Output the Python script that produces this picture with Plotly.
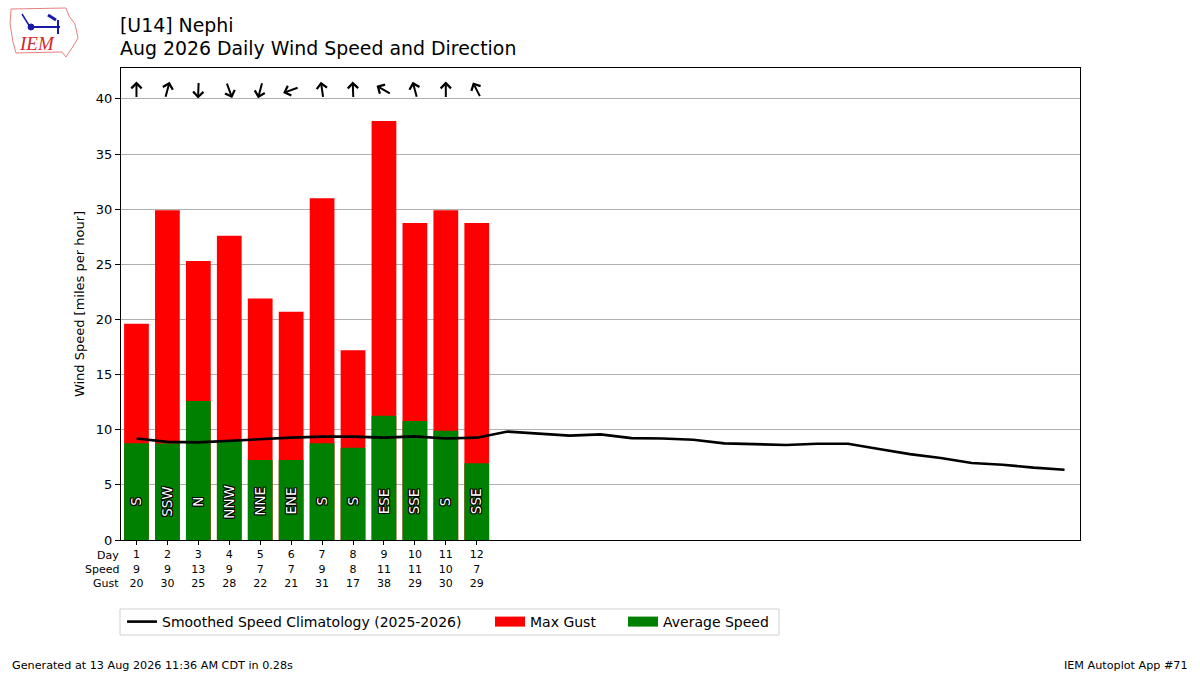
import math
import plotly.graph_objects as go

# ---------------- data ----------------
days = list(range(1, 13))
avg_speed = [8.77, 8.74, 12.6, 9.0, 7.26, 7.26, 8.77, 8.37, 11.27, 10.8, 9.9, 6.96]
max_gust = [19.6, 29.9, 25.3, 27.6, 21.9, 20.7, 31.0, 17.2, 38.0, 28.75, 29.9, 28.75]
direction_deg = [180, 195, 2, 340, 15, 70, 172, 178, 120, 165, 180, 153]
direction_txt = ["S", "SSW", "N", "NNW", "NNE", "ENE", "S", "S", "ESE", "SSE", "S", "SSE"]
speed_lbl = [9, 9, 13, 9, 7, 7, 9, 8, 11, 11, 10, 7]
gust_lbl = [20, 30, 25, 28, 22, 21, 31, 17, 38, 29, 30, 29]
clim_days = list(range(1, 32))
clim_speed = [9.2, 8.9, 8.85, 9.0, 9.1, 9.28, 9.37, 9.37, 9.28, 9.4, 9.2, 9.28,
              9.83, 9.67, 9.46, 9.58, 9.24, 9.21, 9.09, 8.76, 8.70, 8.62, 8.73,
              8.73, 8.25, 7.79, 7.43, 6.98, 6.83, 6.56, 6.37]
y_ticks = [0, 5, 10, 15, 20, 25, 30, 35, 40]

FONT = "DejaVu Sans"
W, H = 1200, 675
ML, MR, MT, MB = 121, 120, 68, 135
XR = [0.5, 31.5]
YR = [0, 42.8]
PW, PH = W - ML - MR, H - MT - MB
px_per_x = PW / (XR[1] - XR[0])
px_per_y = PH / (YR[1] - YR[0])


def px2paper(px, py):
    return (px - ML) / PW, (H - MB - py) / PH


LEG_Y = px2paper(0, 622)[1]
legend_common = dict(orientation="h", yanchor="middle", xanchor="left", y=LEG_Y,
                     bgcolor="rgba(0,0,0,0)", borderwidth=0,
                     font=dict(family=FONT, size=14, color="black"))

fig = go.Figure()
fig.add_trace(go.Bar(x=days, y=max_gust, name="Max Gust", marker_color="#ff0000",
                     marker_line_width=0, width=0.8, showlegend=False))
fig.add_trace(go.Bar(x=days, y=avg_speed, name="Average Speed", marker_color="#008000",
                     marker_line_width=0, width=0.8, showlegend=False))
fig.add_trace(go.Scatter(x=clim_days, y=clim_speed, mode="lines",
                         name="Smoothed Speed Climatology (2025-2026)",
                         line=dict(color="black", width=2.6), legend="legend"))
# legend proxies for bars (rectangular swatches)
fig.add_trace(go.Scatter(x=[None], y=[None], mode="lines", name="Max Gust",
                         line=dict(color="#ff0000", width=10), legend="legend2"))
fig.add_trace(go.Scatter(x=[None], y=[None], mode="lines", name="Average Speed",
                         line=dict(color="#008000", width=10), legend="legend3"))

annotations = []
# direction arrows
arrow_y = 40.8
L = 17.0
for d, deg in zip(days, direction_deg):
    th = math.radians(deg + 180)
    dxp = math.sin(th) * L / 2
    dyp = math.cos(th) * L / 2
    annotations.append(dict(
        x=d + dxp / px_per_x, y=arrow_y + dyp / px_per_y,
        ax=d - dxp / px_per_x, ay=arrow_y - dyp / px_per_y,
        xref="x", yref="y", axref="x", ayref="y", text="",
        showarrow=True, arrowhead=4, arrowsize=1.0, arrowwidth=2,
        arrowcolor="black", standoff=0, startstandoff=0))
# direction labels in bars
for d, t in zip(days, direction_txt):
    annotations.append(dict(
        x=d, y=3.5, xref="x", yref="y", text=t, showarrow=False, textangle=-90,
        font=dict(family=FONT, size=13.5, color="white",
                  shadow="-1px -1px 0 #000, 1px -1px 0 #000, -1px 1px 0 #000, 1px 1px 0 #000, 0 1px 0 #000, 0 -1px 0 #000, 1px 0 0 #000, -1px 0 0 #000")))
# table row labels
for i, lab in enumerate(["Day", "Speed", "Gust"]):
    annotations.append(dict(
        x=0, y=0, xref="paper", yref="paper", xanchor="right", yanchor="middle",
        xshift=0, yshift=-15 - 14 * i, text=lab, showarrow=False,
        font=dict(family=FONT, size=11, color="black")))


def fig_text(px, py, text, size, anchor="left", family=FONT, color="black"):
    x, y = px2paper(px, py)
    annotations.append(dict(x=x, y=y, xref="paper", yref="paper", xanchor=anchor,
                            yanchor="middle", showarrow=False, text=text,
                            font=dict(family=family, size=size, color=color)))


fig_text(118, 25, "[U14] Nephi", 18.9)
fig_text(118, 48, "Aug 2026 Daily Wind Speed and Direction", 18.9)
fig_text(10, 665, "Generated at 13 Aug 2026 11:36 AM CDT in 0.28s", 11.2)
fig_text(1190, 665, "IEM Autoplot App #71", 11.2, anchor="right")
fig_text(37, 44, "<i>IEM</i>", 19, anchor="center", family="Liberation Serif", color="#d62728")

# logo outline / details
logo_pts = [(11, 9), (66, 8), (69, 16), (75, 24), (78, 38), (72, 48), (66, 57),
            (62, 52), (16, 53), (13, 42), (10, 24)]
path = "M " + " L ".join(f"{px2paper(a, b)[0]:.4f},{px2paper(a, b)[1]:.4f}" for a, b in logo_pts) + " Z"
shapes = [dict(type="path", path=path, xref="paper", yref="paper",
               line=dict(color="#e88080", width=1), fillcolor="rgba(0,0,0,0)")]


def fig_line(p0, p1, width):
    x1, y1 = px2paper(*p0)
    x2, y2 = px2paper(*p1)
    shapes.append(dict(type="line", x0=x1, y0=y1, x1=x2, y1=y2, xref="paper", yref="paper",
                       line=dict(color="#1a1aaa", width=width)))


fig_line((30, 27), (60, 27), 2)
fig_line((58, 20), (58, 34), 2)
fig_line((48, 15), (56, 20), 3)
fig_line((22, 14), (30, 27), 1.5)
cx0, cy0 = px2paper(28, 24)
cx1, cy1 = px2paper(34, 30)
shapes.append(dict(type="circle", x0=cx0, y0=cy0, x1=cx1, y1=cy1, xref="paper", yref="paper",
                   fillcolor="#1a1aaa", line=dict(color="#1a1aaa", width=1)))
# legend frame
bx0, by0 = px2paper(120, 635)
bx1, by1 = px2paper(779, 609)
shapes.append(dict(type="rect", x0=bx0, y0=by0, x1=bx1, y1=by1, xref="paper", yref="paper",
                   line=dict(color="#d0d0d0", width=1), fillcolor="white", layer="below"))

tick_text = [f"{d}<br>{s}<br>{g}" for d, s, g in zip(days, speed_lbl, gust_lbl)]

fig.update_layout(
    width=W, height=H,
    margin=dict(l=ML, r=MR, t=MT, b=MB, autoexpand=False),
    paper_bgcolor="white", plot_bgcolor="white",
    barmode="overlay", bargap=0.2,
    font=dict(family=FONT, size=13, color="black"),
    showlegend=True,
    legend=dict(legend_common, x=px2paper(122, 0)[0]),
    legend2=dict(legend_common, x=px2paper(490, 0)[0]),
    legend3=dict(legend_common, x=px2paper(623, 0)[0]),
    annotations=annotations, shapes=shapes,
    xaxis=dict(range=XR, tickmode="array", tickvals=days, ticktext=tick_text,
               tickfont=dict(family=FONT, size=11), ticks="outside", ticklen=4,
               tickcolor="black", showgrid=False, zeroline=False,
               showline=True, linecolor="black", linewidth=1, mirror=True),
    yaxis=dict(range=YR, tickmode="array", tickvals=y_ticks, ticks="outside",
               ticklen=5, tickcolor="black", showgrid=True, gridcolor="#b0b0b0",
               gridwidth=1, zeroline=False, showline=True, linecolor="black",
               linewidth=1, mirror=True, tickfont=dict(family=FONT, size=13),
               title=dict(text="Wind Speed [miles per hour]",
                          font=dict(family=FONT, size=13), standoff=8)),
)

fig.write_html("out.html", config={"displayModeBar": False},
               post_script="document.body.style.margin='0';")
